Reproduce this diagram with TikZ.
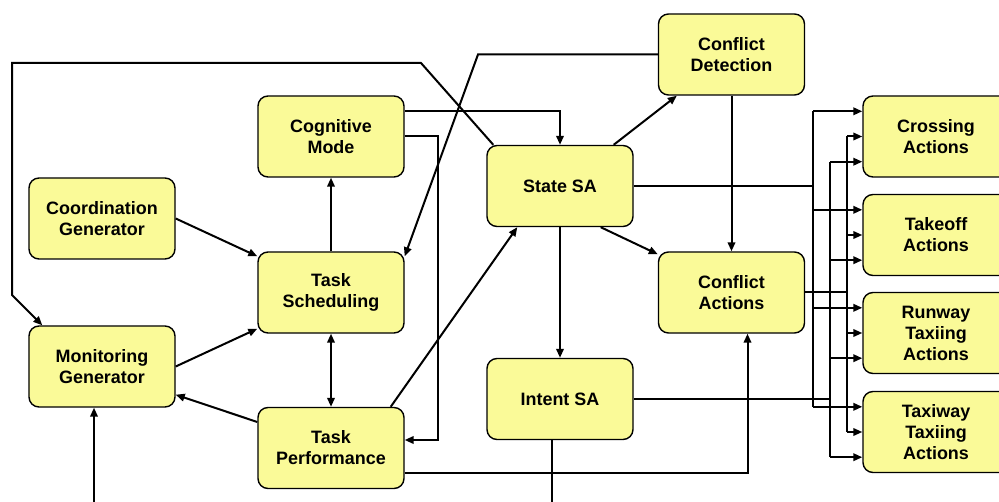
\documentclass[tikz,border=0pt]{standalone}
\usepackage{fontspec}
\setmainfont{Liberation Sans}
\usepackage{xcolor}
\usepackage{tikz}
\usetikzlibrary{arrows.meta,calc}
\definecolor{boxyellow}{RGB}{250,250,152}
\tikzset{
  blk/.style={draw, rounded corners=10bp, fill=boxyellow, line width=1.4bp, minimum width=146bp, minimum height=81bp, inner sep=0pt, align=center, font=\fontsize{18}{21}\selectfont\bfseries},
  flow/.style={-{Triangle[length=9bp,width=7.5bp]}, line width=2bp},
  flow2/.style={{Triangle[length=9bp,width=7.5bp]}-{Triangle[length=9bp,width=7.5bp]}, line width=2bp},
  wire/.style={line width=2bp},
}

\begin{document}
\begin{tikzpicture}[x=1bp, y=-1bp]
\useasboundingbox (0,0) rectangle (999,502);
\clip (0,0) rectangle (999,502);
% left column
\node[blk] (coordgen) at (102,218.5) {Coordination\\Generator};
\node[blk] (mongen) at (102,366.5) {Monitoring\\Generator};
% task column
\node[blk] (cogmode) at (331,136.5) {Cognitive\\Mode};
\node[blk] (tasksched) at (331,292.5) {Task\\Scheduling};
\node[blk] (taskperf) at (331,448) {Task\\Performance};
% SA column
\node[blk] (statesa) at (560,186) {State SA};
\node[blk] (intentsa) at (560,399) {Intent SA};
% conflict column
\node[blk] (confdet) at (731.5,54.5) {Conflict\\Detection};
\node[blk] (confact) at (731.5,292.5) {Conflict\\Actions};
% action boxes, cut by the right edge
\node[blk] (crossing) at (936,136.5) {Crossing\\Actions};
\node[blk] (takeoff) at (936,235) {Takeoff\\Actions};
\node[blk] (runway) at (936,333) {Runway\\Taxiing\\Actions};
\node[blk] (taxiway) at (936,432) {Taxiway\\Taxiing\\Actions};
% long loop back to the monitoring generator
\coordinate (loopA) at (421,63);
\coordinate (loopB) at (12,63);
\coordinate (loopC) at (12,295);
\draw[flow] ($(statesa.north west)+(7,0)$) -- (loopA) -- (loopB) -- (loopC) -- ($(mongen.north west)+(14,0)$);
% conflict detection back to scheduling
\coordinate (cdBend) at (478,54.5);
\draw[flow] (confdet.west) -- (cdBend) -- ($(tasksched.north east)+(0,5)$);
% cognitive mode outputs
\draw[flow] ($(cogmode.north east)+(0,16)$) -| (statesa.north);
\draw[flow] (cogmode.east) -- ++(33,0) |- ($(taskperf.east)+(0,-8)$);
% task column links
\draw[flow] (tasksched.north) -- (cogmode.south);
\draw[flow] (coordgen.east) -- ($(tasksched.north west)+(0,5)$);
\draw[flow] (mongen.east) -- ($(tasksched.south west)+(0,-5)$);
\draw[flow2] (tasksched.south) -- (taskperf.north);
\draw[flow] ($(taskperf.west)+(0,-26)$) -- ($(mongen.south east)+(0,-13)$);
\coordinate (monFeed) at (94,520);
\draw[flow] (monFeed) -- (monFeed |- mongen.south);
\draw[flow] ($(taskperf.north east)+(-14,0)$) -- ($(statesa.south west)+(31,0)$);
\draw[flow] ($(taskperf.east)+(0,25)$) -| ($(confact.south)+(16,0)$);
% SA links
\draw[flow] (statesa.south) -- (intentsa.north);
\draw[wire] ($(intentsa.south)+(-8,0)$) -- ++(0,80);
\draw[flow] ($(statesa.north east)+(-20,0)$) -- ($(confdet.south west)+(19,0)$);
\draw[flow] ($(statesa.south east)+(-33,0)$) -- ($(confact.north west)+(0,3)$);
\draw[flow] (confdet.south) -- (confact.north);
% bus to the action boxes
\coordinate (busS) at (813,0);
\coordinate (busI) at (830,0);
\coordinate (busC) at (847,0);
\foreach \b in {crossing,takeoff,runway,taxiway}{
  \coordinate (\b-s) at ($(\b.north west)+(0,16)$);
  \coordinate (\b-i) at ($(\b.south west)+(0,-16)$);
  \draw[flow] (\b-s -| busS) -- (\b-s);
  \draw[flow] (\b.west -| busC) -- (\b.west);
  \draw[flow] (\b-i -| busI) -- (\b-i);
}
\draw[wire] (statesa.east) -- (statesa.east -| busS);
\draw[wire] (crossing-s -| busS) -- (taxiway-s -| busS);
\draw[wire] (intentsa.east) -- (intentsa.east -| busI);
\draw[wire] (crossing-i -| busI) -- (taxiway-i -| busI);
\draw[wire] (confact.east) -- (confact.east -| busC);
\draw[wire] (crossing.west -| busC) -- (taxiway.west -| busC);
\end{tikzpicture}
\end{document}
